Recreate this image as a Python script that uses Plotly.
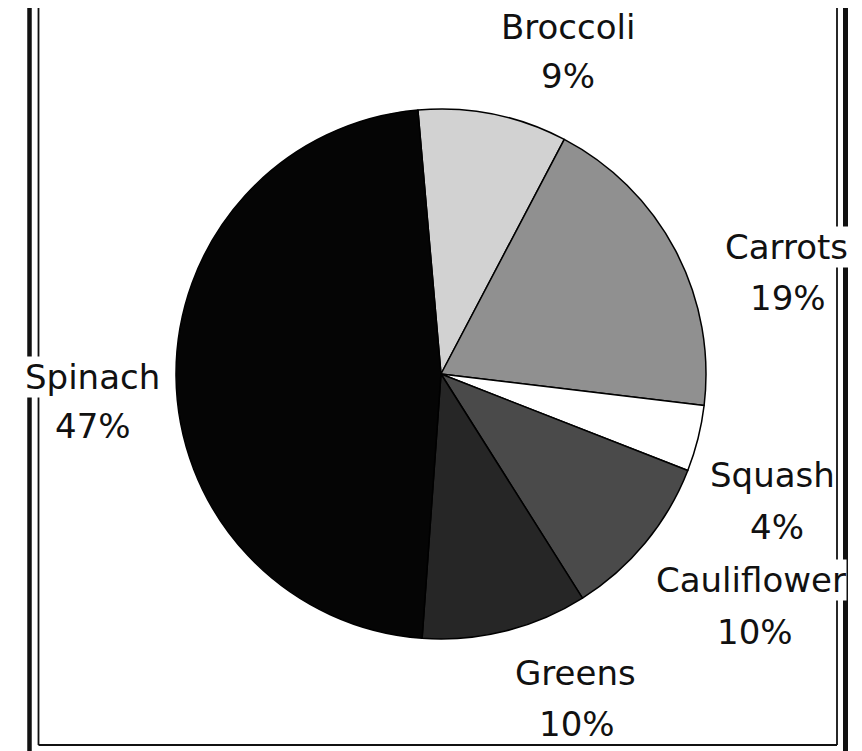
import plotly.graph_objects as go

# ---- data ----
categories = ["Broccoli", "Carrots", "Squash", "Cauliflower", "Greens", "Spinach"]
shares = [9, 19, 4, 10, 10, 47]
pct_labels = [f"{v}%" for v in shares]

# ---- style / layout ----
PAGE_W, PAGE_H = 862, 751
BODY_MARGIN = 8                      # default page margin around the plot div
W, H = PAGE_W - BODY_MARGIN, PAGE_H - BODY_MARGIN
slice_colors = ["#d2d2d2", "#909090", "#ffffff", "#4a4a4a", "#262626", "#050505"]
# label centers in page pixels (name line, percent line)
name_pos = [(568, 27), (786, 247), (772, 475), (751, 580), (575, 673), (92, 377)]
pct_pos = [(568, 76), (788, 298), (777, 527), (755, 632), (577, 724), (93, 426)]
# labels that sit on the frame get a white backing that breaks the frame lines
name_backed = [False, True, True, True, False, True]

def px(x):
    return (x - BODY_MARGIN) / W

def py(y):
    return 1 - (y - BODY_MARGIN) / H

cx, cy, r = 441, 374, 265

fig = go.Figure()
fig.add_trace(go.Pie(
    labels=categories,
    values=shares,
    sort=False,
    direction="clockwise",
    rotation=-5,
    textinfo="none",
    textposition="none",
    hoverinfo="label+percent",
    marker=dict(colors=slice_colors, line=dict(color="#000000", width=1.5)),
    domain=dict(x=[px(cx - r), px(cx + r)], y=[py(cy + r), py(cy - r)]),
    showlegend=False,
))

font = dict(family="DejaVu Sans, Arial, sans-serif", size=34, color="#111111")
annotations = []
for name, pct, (nx, ny), (qx, qy), backed in zip(categories, pct_labels, name_pos, pct_pos, name_backed):
    annotations.append(dict(
        text=name, x=px(nx), y=py(ny), xref="paper", yref="paper",
        xanchor="center", yanchor="middle", showarrow=False, font=font,
        bgcolor="#ffffff" if backed else "rgba(0,0,0,0)", borderpad=0,
    ))
    annotations.append(dict(
        text=pct, x=px(qx), y=py(qy), xref="paper", yref="paper",
        xanchor="center", yanchor="middle", showarrow=False, font=font,
    ))

# double frame (thick outer, thin inner), page pixels
frame = [
    dict(x0=29.5, y0=0, x1=29.5, y1=PAGE_H, w=4.5),
    dict(x0=38.5, y0=0, x1=38.5, y1=745, w=1.8),
    dict(x0=38.5, y0=745, x1=837, y1=745, w=1.8),
    dict(x0=837, y0=0, x1=837, y1=745, w=1.8),
    dict(x0=845.5, y0=0, x1=845.5, y1=PAGE_H, w=5),
]
shapes = [
    dict(type="line", xref="paper", yref="paper",
         x0=px(f["x0"]), y0=py(f["y0"]), x1=px(f["x1"]), y1=py(f["y1"]),
         line=dict(color="#111111", width=f["w"]), layer="below")
    for f in frame
]

fig.update_layout(
    width=W, height=H,
    margin=dict(l=0, r=0, t=0, b=0),
    paper_bgcolor="#ffffff",
    plot_bgcolor="#ffffff",
    annotations=annotations,
    shapes=shapes,
)

fig.write_html("out.html")
